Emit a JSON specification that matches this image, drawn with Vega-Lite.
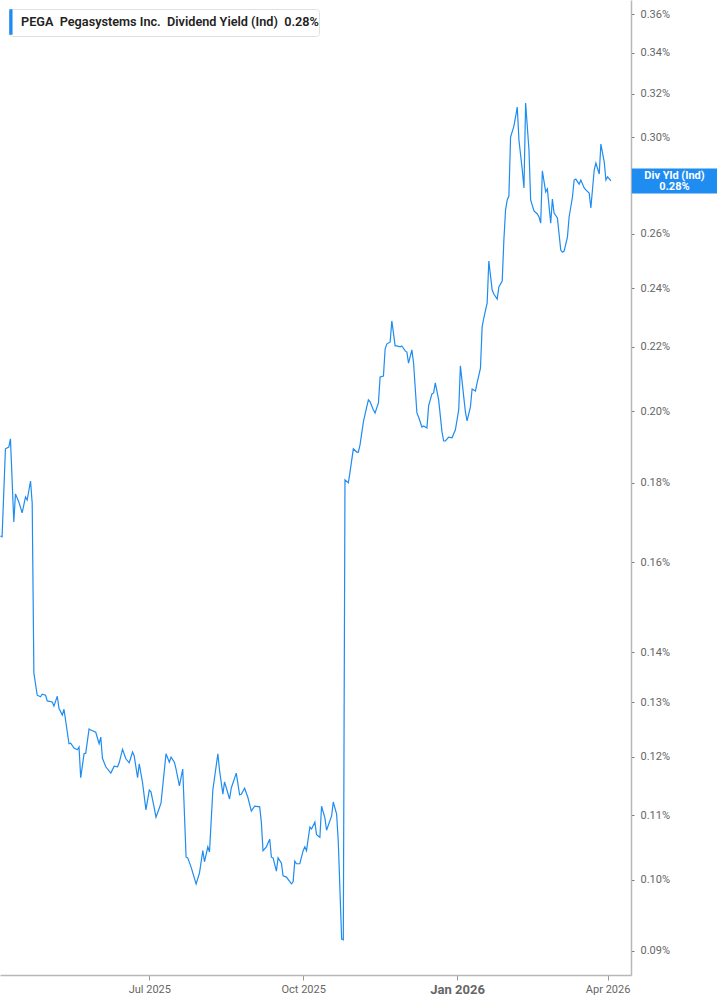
{
  "$schema": "https://vega.github.io/schema/vega-lite/v6.json",
  "width": 631,
  "height": 975,
  "autosize": {"type": "none"},
  "padding": {"left": 0, "top": 0, "right": 86, "bottom": 30},
  "background": "white",
  "config": {
    "view": {"stroke": null},
    "font": "Roboto",
    "axisX": {
      "grid": false,
      "labelFlush": false,
      "labelOverlap": false,
      "labelFont": "Roboto",
      "labelColor": "#666",
      "labelPadding": 3,
      "domainColor": "#b8b8b8",
      "domainWidth": 1.5,
      "tickColor": "#999",
      "tickSize": 5
    },
    "axisY": {
      "grid": false,
      "labelFlush": false,
      "labelOverlap": false,
      "labelFont": "Roboto",
      "labelFontSize": 11,
      "labelColor": "#666",
      "labelPadding": 6,
      "domainColor": "#b8b8b8",
      "domainWidth": 1.5,
      "tickColor": "#777",
      "tickSize": 3
    }
  },
  "encoding": {
    "y": {
      "field": "v",
      "type": "quantitative",
      "scale": {"type": "log", "domain": [0.08686, 0.36754], "nice": false, "zero": false},
      "axis": {
        "orient": "right",
        "title": null,
        "values": [0.09, 0.1, 0.11, 0.12, 0.13, 0.14, 0.16, 0.18, 0.2, 0.22, 0.24, 0.26, 0.3, 0.32, 0.34, 0.36],
        "labelExpr": "format(datum.value, '.2f') + '%'"
      }
    }
  },
  "layer": [
    {
      "data": {
        "values": [
          {"d": "2025-04-03", "v": 0.1663}, {"d": "2025-04-04", "v": 0.1661}, {"d": "2025-04-06", "v": 0.1892}, {"d": "2025-04-08", "v": 0.1897},
          {"d": "2025-04-09", "v": 0.1920}, {"d": "2025-04-11", "v": 0.1698}, {"d": "2025-04-12", "v": 0.1770}, {"d": "2025-04-14", "v": 0.1749},
          {"d": "2025-04-16", "v": 0.1721}, {"d": "2025-04-18", "v": 0.1762}, {"d": "2025-04-19", "v": 0.1754}, {"d": "2025-04-21", "v": 0.1804},
          {"d": "2025-04-22", "v": 0.1746}, {"d": "2025-04-23", "v": 0.1358}, {"d": "2025-04-25", "v": 0.1314}, {"d": "2025-04-27", "v": 0.1311},
          {"d": "2025-04-28", "v": 0.1316}, {"d": "2025-04-30", "v": 0.1314}, {"d": "2025-05-01", "v": 0.1303}, {"d": "2025-05-04", "v": 0.1301},
          {"d": "2025-05-05", "v": 0.1293}, {"d": "2025-05-07", "v": 0.1312}, {"d": "2025-05-08", "v": 0.1289}, {"d": "2025-05-10", "v": 0.1276},
          {"d": "2025-05-11", "v": 0.1287}, {"d": "2025-05-13", "v": 0.1244}, {"d": "2025-05-14", "v": 0.1223}, {"d": "2025-05-15", "v": 0.1224},
          {"d": "2025-05-17", "v": 0.1215}, {"d": "2025-05-19", "v": 0.1212}, {"d": "2025-05-20", "v": 0.1217}, {"d": "2025-05-21", "v": 0.1163},
          {"d": "2025-05-23", "v": 0.1205}, {"d": "2025-05-24", "v": 0.1206}, {"d": "2025-05-26", "v": 0.1250}, {"d": "2025-05-27", "v": 0.1248},
          {"d": "2025-05-30", "v": 0.1244}, {"d": "2025-06-01", "v": 0.1223}, {"d": "2025-06-02", "v": 0.1235}, {"d": "2025-06-03", "v": 0.1197},
          {"d": "2025-06-05", "v": 0.1182}, {"d": "2025-06-08", "v": 0.1171}, {"d": "2025-06-10", "v": 0.1183}, {"d": "2025-06-12", "v": 0.1182},
          {"d": "2025-06-13", "v": 0.1189}, {"d": "2025-06-15", "v": 0.1213}, {"d": "2025-06-17", "v": 0.1196}, {"d": "2025-06-19", "v": 0.1189},
          {"d": "2025-06-21", "v": 0.1208}, {"d": "2025-06-22", "v": 0.1201}, {"d": "2025-06-24", "v": 0.1163}, {"d": "2025-06-25", "v": 0.1187},
          {"d": "2025-06-27", "v": 0.1154}, {"d": "2025-06-29", "v": 0.1109}, {"d": "2025-07-01", "v": 0.1142}, {"d": "2025-07-02", "v": 0.1139},
          {"d": "2025-07-04", "v": 0.1112}, {"d": "2025-07-05", "v": 0.1097}, {"d": "2025-07-07", "v": 0.1112}, {"d": "2025-07-08", "v": 0.1120},
          {"d": "2025-07-11", "v": 0.1205}, {"d": "2025-07-13", "v": 0.1190}, {"d": "2025-07-14", "v": 0.1199}, {"d": "2025-07-16", "v": 0.1190},
          {"d": "2025-07-17", "v": 0.1178}, {"d": "2025-07-19", "v": 0.1149}, {"d": "2025-07-21", "v": 0.1178}, {"d": "2025-07-23", "v": 0.1034},
          {"d": "2025-07-24", "v": 0.1033}, {"d": "2025-07-26", "v": 0.1019}, {"d": "2025-07-29", "v": 0.0994}, {"d": "2025-07-31", "v": 0.1010},
          {"d": "2025-08-02", "v": 0.1044}, {"d": "2025-08-03", "v": 0.1027}, {"d": "2025-08-05", "v": 0.1050}, {"d": "2025-08-06", "v": 0.1042},
          {"d": "2025-08-08", "v": 0.1142}, {"d": "2025-08-11", "v": 0.1205}, {"d": "2025-08-12", "v": 0.1176}, {"d": "2025-08-14", "v": 0.1135},
          {"d": "2025-08-15", "v": 0.1156}, {"d": "2025-08-18", "v": 0.1127}, {"d": "2025-08-19", "v": 0.1145}, {"d": "2025-08-22", "v": 0.1171},
          {"d": "2025-08-24", "v": 0.1134}, {"d": "2025-08-25", "v": 0.1135}, {"d": "2025-08-27", "v": 0.1145}, {"d": "2025-08-29", "v": 0.1129},
          {"d": "2025-08-31", "v": 0.1107}, {"d": "2025-09-02", "v": 0.1115}, {"d": "2025-09-05", "v": 0.1114}, {"d": "2025-09-06", "v": 0.1089},
          {"d": "2025-09-07", "v": 0.1044}, {"d": "2025-09-09", "v": 0.1050}, {"d": "2025-09-11", "v": 0.1062}, {"d": "2025-09-12", "v": 0.1034},
          {"d": "2025-09-13", "v": 0.1033}, {"d": "2025-09-15", "v": 0.1013}, {"d": "2025-09-16", "v": 0.1033}, {"d": "2025-09-18", "v": 0.1025},
          {"d": "2025-09-19", "v": 0.1006}, {"d": "2025-09-21", "v": 0.1004}, {"d": "2025-09-24", "v": 0.0994}, {"d": "2025-09-25", "v": 0.0997},
          {"d": "2025-09-26", "v": 0.1028}, {"d": "2025-09-27", "v": 0.1024}, {"d": "2025-09-29", "v": 0.1024}, {"d": "2025-10-01", "v": 0.1044},
          {"d": "2025-10-02", "v": 0.1050}, {"d": "2025-10-03", "v": 0.1044}, {"d": "2025-10-05", "v": 0.1081}, {"d": "2025-10-06", "v": 0.1078},
          {"d": "2025-10-08", "v": 0.1089}, {"d": "2025-10-09", "v": 0.1069}, {"d": "2025-10-11", "v": 0.1065}, {"d": "2025-10-12", "v": 0.1115},
          {"d": "2025-10-14", "v": 0.1096}, {"d": "2025-10-15", "v": 0.1076}, {"d": "2025-10-18", "v": 0.1099}, {"d": "2025-10-19", "v": 0.1122},
          {"d": "2025-10-21", "v": 0.1102}, {"d": "2025-10-22", "v": 0.1058}, {"d": "2025-10-24", "v": 0.0916}, {"d": "2025-10-25", "v": 0.0915},
          {"d": "2025-10-26", "v": 0.1807}, {"d": "2025-10-28", "v": 0.1799}, {"d": "2025-10-29", "v": 0.1828}, {"d": "2025-10-31", "v": 0.1892},
          {"d": "2025-11-02", "v": 0.1883}, {"d": "2025-11-03", "v": 0.1883}, {"d": "2025-11-04", "v": 0.1903}, {"d": "2025-11-06", "v": 0.1969},
          {"d": "2025-11-08", "v": 0.2013}, {"d": "2025-11-09", "v": 0.2034}, {"d": "2025-11-10", "v": 0.2028}, {"d": "2025-11-12", "v": 0.2004},
          {"d": "2025-11-13", "v": 0.1995}, {"d": "2025-11-15", "v": 0.2025}, {"d": "2025-11-16", "v": 0.2104}, {"d": "2025-11-18", "v": 0.2107},
          {"d": "2025-11-19", "v": 0.2193}, {"d": "2025-11-20", "v": 0.2209}, {"d": "2025-11-22", "v": 0.2216}, {"d": "2025-11-23", "v": 0.2286},
          {"d": "2025-11-25", "v": 0.2203}, {"d": "2025-11-26", "v": 0.2203}, {"d": "2025-11-28", "v": 0.2200}, {"d": "2025-11-29", "v": 0.2203},
          {"d": "2025-12-01", "v": 0.2187}, {"d": "2025-12-02", "v": 0.2183}, {"d": "2025-12-03", "v": 0.2148}, {"d": "2025-12-05", "v": 0.2190},
          {"d": "2025-12-06", "v": 0.2148}, {"d": "2025-12-08", "v": 0.1995}, {"d": "2025-12-09", "v": 0.1983}, {"d": "2025-12-11", "v": 0.1954},
          {"d": "2025-12-12", "v": 0.1957}, {"d": "2025-12-14", "v": 0.1951}, {"d": "2025-12-15", "v": 0.2016}, {"d": "2025-12-17", "v": 0.2052},
          {"d": "2025-12-18", "v": 0.2055}, {"d": "2025-12-19", "v": 0.2086}, {"d": "2025-12-21", "v": 0.2034}, {"d": "2025-12-23", "v": 0.1940},
          {"d": "2025-12-24", "v": 0.1914}, {"d": "2025-12-25", "v": 0.1914}, {"d": "2025-12-27", "v": 0.1925}, {"d": "2025-12-29", "v": 0.1923},
          {"d": "2025-12-31", "v": 0.1946}, {"d": "2026-01-02", "v": 0.2004}, {"d": "2026-01-03", "v": 0.2139}, {"d": "2026-01-05", "v": 0.2043},
          {"d": "2026-01-06", "v": 0.1998}, {"d": "2026-01-07", "v": 0.1972}, {"d": "2026-01-09", "v": 0.2013}, {"d": "2026-01-10", "v": 0.2067},
          {"d": "2026-01-12", "v": 0.2061}, {"d": "2026-01-13", "v": 0.2086}, {"d": "2026-01-15", "v": 0.2132}, {"d": "2026-01-16", "v": 0.2266},
          {"d": "2026-01-17", "v": 0.2296}, {"d": "2026-01-19", "v": 0.2348}, {"d": "2026-01-20", "v": 0.2498}, {"d": "2026-01-22", "v": 0.2393},
          {"d": "2026-01-23", "v": 0.2379}, {"d": "2026-01-25", "v": 0.2361}, {"d": "2026-01-26", "v": 0.2404}, {"d": "2026-01-28", "v": 0.2425},
          {"d": "2026-01-29", "v": 0.2577}, {"d": "2026-01-30", "v": 0.2694}, {"d": "2026-01-31", "v": 0.2734}, {"d": "2026-02-01", "v": 0.2750},
          {"d": "2026-02-02", "v": 0.3001}, {"d": "2026-02-04", "v": 0.3050}, {"d": "2026-02-06", "v": 0.3137}, {"d": "2026-02-07", "v": 0.2988},
          {"d": "2026-02-09", "v": 0.2858}, {"d": "2026-02-10", "v": 0.2783}, {"d": "2026-02-11", "v": 0.3156}, {"d": "2026-02-13", "v": 0.2944},
          {"d": "2026-02-14", "v": 0.2734}, {"d": "2026-02-16", "v": 0.2690}, {"d": "2026-02-18", "v": 0.2678}, {"d": "2026-02-19", "v": 0.2666},
          {"d": "2026-02-20", "v": 0.2642}, {"d": "2026-02-21", "v": 0.2854}, {"d": "2026-02-23", "v": 0.2767}, {"d": "2026-02-24", "v": 0.2779},
          {"d": "2026-02-26", "v": 0.2642}, {"d": "2026-02-27", "v": 0.2738}, {"d": "2026-02-28", "v": 0.2682}, {"d": "2026-03-02", "v": 0.2662},
          {"d": "2026-03-04", "v": 0.2539}, {"d": "2026-03-05", "v": 0.2531}, {"d": "2026-03-06", "v": 0.2535}, {"d": "2026-03-08", "v": 0.2588},
          {"d": "2026-03-09", "v": 0.2666}, {"d": "2026-03-11", "v": 0.2746}, {"d": "2026-03-12", "v": 0.2816}, {"d": "2026-03-13", "v": 0.2820},
          {"d": "2026-03-15", "v": 0.2799}, {"d": "2026-03-16", "v": 0.2816}, {"d": "2026-03-18", "v": 0.2783}, {"d": "2026-03-19", "v": 0.2775},
          {"d": "2026-03-21", "v": 0.2762}, {"d": "2026-03-22", "v": 0.2702}, {"d": "2026-03-24", "v": 0.2858}, {"d": "2026-03-25", "v": 0.2888},
          {"d": "2026-03-27", "v": 0.2841}, {"d": "2026-03-28", "v": 0.2970}, {"d": "2026-03-30", "v": 0.2892}, {"d": "2026-03-31", "v": 0.2816},
          {"d": "2026-04-01", "v": 0.2829}, {"d": "2026-04-03", "v": 0.2812}
        ]
      },
      "mark": {"type": "line", "strokeWidth": 1.2, "interpolate": "linear"},
      "encoding": {
        "x": {
          "field": "d",
          "type": "temporal",
          "scale": {
            "type": "utc",
            "domain": [
              {"year": 2025, "month": 4, "date": 2, "hours": 18, "utc": true},
              {"year": 2026, "month": 4, "date": 15, "utc": true}
            ]
          },
          "axis": {
            "title": null,
            "values": [
              {"year": 2025, "month": 7, "date": 1, "utc": true},
              {"year": 2025, "month": 10, "date": 1, "utc": true},
              {"year": 2026, "month": 1, "date": 1, "utc": true},
              {"year": 2026, "month": 4, "date": 1, "utc": true}
            ],
            "labelExpr": "utcFormat(datum.value, '%b %Y')",
            "labelFontWeight": {"expr": "utcmonth(datum.value) == 0 ? 'bold' : 'normal'"},
            "labelFontSize": {"expr": "utcmonth(datum.value) == 0 ? 13 : 11"}
          }
        },
        "color": {
          "datum": "PEGA\u00a0\u00a0Pegasystems Inc.\u00a0\u00a0Dividend Yield (Ind)\u00a0\u00a00.28%",
          "scale": {"range": ["#1e8cf0"]},
          "legend": {
            "title": null,
            "orient": "top-left",
            "offset": 9,
            "padding": 0,
            "fillColor": "white",
            "strokeColor": "#e0e0e0",
            "cornerRadius": 3,
            "symbolType": "M-1,-1H-0.78V1H-1Z",
            "symbolSize": 625,
            "symbolFillColor": "#1e8cf0",
            "symbolStrokeColor": "#1e8cf0",
            "symbolStrokeWidth": 0.5,
            "labelOffset": -14,
            "labelLimit": 0,
            "labelFont": "Roboto",
            "labelFontSize": 12.7,
            "labelFontWeight": 600,
            "labelColor": "#222",
            "encode": {
              "symbols": {
                "update": {
                  "fill": {"value": "#1e8cf0"},
                  "stroke": {"value": "#1e8cf0"},
                  "shape": {"value": "M-1,-1H-0.78V1H-1Z"},
                  "size": {"value": 625}
                }
              },
              "legend": {
                "update": {"width": {"value": 317}}
              }
            }
          }
        }
      }
    },
    {
      "data": {"values": [{"v": 0.2812, "label": "Div Yld (Ind)\n0.28%"}]},
      "mark": {"type": "rule", "strokeWidth": 25, "strokeCap": "butt", "color": "#1e8cf0"},
      "encoding": {
        "x": {"datum": {"year": 2026, "month": 4, "date": 15, "hours": 12, "utc": true}, "type": "temporal"},
        "x2": {"datum": {"year": 2026, "month": 6, "date": 8, "utc": true}}
      }
    },
    {
      "data": {"values": [{"v": 0.2812, "label": "Div Yld (Ind)\n0.28%"}]},
      "mark": {"type": "text", "color": "white", "font": "Roboto", "fontSize": 11, "fontWeight": "bold", "lineBreak": "\n", "lineHeight": 11, "align": "center", "baseline": "middle", "dy": -5},
      "encoding": {
        "x": {"datum": {"year": 2026, "month": 5, "date": 11, "utc": true}, "type": "temporal"},
        "text": {"field": "label"}
      }
    }
  ]
}
